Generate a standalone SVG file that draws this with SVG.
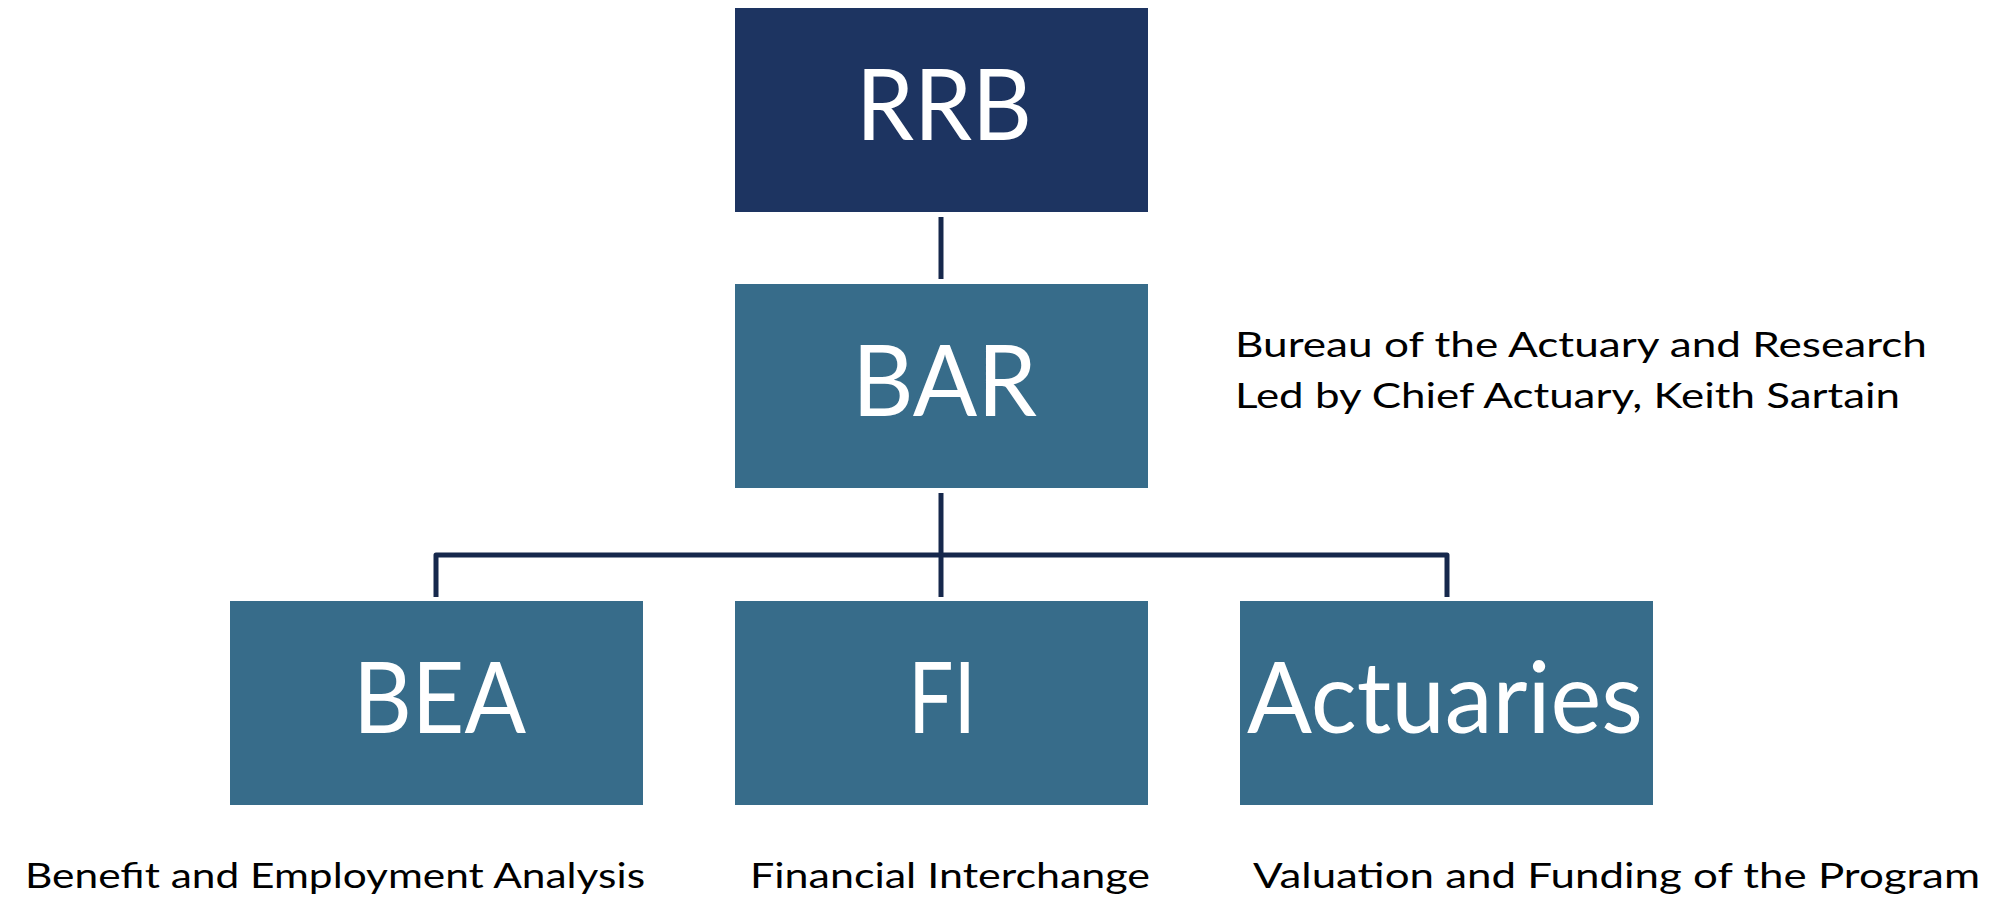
<svg xmlns="http://www.w3.org/2000/svg" width="2000" height="905" viewBox="0 0 2000 905">
  <style>
    .box-top { fill: #1d3461; }
    .box { fill: #376c8a; }
    .label { fill: #ffffff; font-family: Lato, "Open Sans", "Liberation Sans", sans-serif; font-size: 98px; text-anchor: middle; }
    .note { fill: #000000; font-family: Lato, "Open Sans", "Liberation Sans", sans-serif; font-size: 35px; }
    .link { fill: none; stroke: #16284c; stroke-width: 5; stroke-linejoin: round; }
  </style>

  <rect width="2000" height="905" fill="#ffffff"/>

  <!-- connectors -->
  <g id="connectors">
    <path class="link" d="M941 217 V279"/>
    <path class="link" d="M941 493 V597"/>
    <path class="link" d="M436 597 V555 H1447 V597"/>
  </g>

  <g id="node-rrb">
    <rect class="box-top" x="735" y="8" width="413" height="204"/>
    <text class="label" x="944" y="140" textLength="176" lengthAdjust="spacingAndGlyphs">RRB</text>
  </g>

  <g id="node-bar">
    <rect class="box" x="735" y="284" width="413" height="204"/>
    <text class="label" x="944.5" y="416" textLength="185" lengthAdjust="spacingAndGlyphs">BAR</text>
    <text class="note" x="1235" y="357" textLength="692" lengthAdjust="spacingAndGlyphs">Bureau of the Actuary and Research</text>
    <text class="note" x="1235" y="408" textLength="665" lengthAdjust="spacingAndGlyphs">Led by Chief Actuary, Keith Sartain</text>
  </g>

  <g id="node-bea">
    <rect class="box" x="230" y="601" width="413" height="204"/>
    <text class="label" x="439.5" y="733" textLength="173" lengthAdjust="spacingAndGlyphs">BEA</text>
    <text class="note" x="25" y="888" textLength="620" lengthAdjust="spacingAndGlyphs">Benefit and Employment Analysis</text>
  </g>

  <g id="node-fi">
    <rect class="box" x="735" y="601" width="413" height="204"/>
    <text class="label" x="942" y="733" textLength="68" lengthAdjust="spacingAndGlyphs">FI</text>
    <text class="note" x="750" y="888" textLength="400" lengthAdjust="spacingAndGlyphs">Financial Interchange</text>
  </g>

  <g id="node-actuaries">
    <rect class="box" x="1240" y="601" width="413" height="204"/>
    <text class="label" x="1445" y="733" textLength="396" lengthAdjust="spacingAndGlyphs">Actuaries</text>
    <text class="note" x="1253" y="888" textLength="727" lengthAdjust="spacingAndGlyphs">Valuation and Funding of the Program</text>
  </g>
</svg>
